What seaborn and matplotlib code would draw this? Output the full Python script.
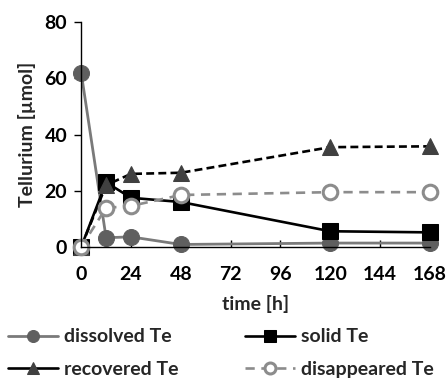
import matplotlib
matplotlib.use("Agg")
import matplotlib.pyplot as plt
import seaborn as sns
import pandas as pd

time_h = [0, 12, 24, 48, 120, 168]
dissolved = [62, 3.3, 3.6, 0.9, 1.4, 1.4]
solid = [0, 23, 17.5, 16, 5.6, 5.2]
recovered = [0, 22, 26, 26.4, 35.5, 35.8]
disappeared = [0, 13.9, 14.6, 18.5, 19.5, 19.5]
series_names = ["dissolved Te", "solid Te", "recovered Te", "disappeared Te"]
x_ticks = [0, 24, 48, 72, 96, 120, 144, 168]
y_ticks = [0, 20, 40, 60, 80]

sns.set_theme(style="white")
plt.rcParams['font.family'] = ['Lato', 'DejaVu Sans']
plt.rcParams['font.weight'] = 'bold'

fig = plt.figure(figsize=(4.46, 3.80), dpi=100)
ax = fig.add_axes([0.182, 0.350, 0.782, 0.592])

df = pd.DataFrame({"time": time_h * 4,
                   "value": dissolved + solid + recovered + disappeared,
                   "series": sum([[n] * len(time_h) for n in series_names], [])})

styles = {
    "dissolved Te": dict(color="#7a7a7a", marker="o", markersize=11.5, markerfacecolor="#5f5f5f",
                         markeredgecolor="#5f5f5f", linewidth=2.0, linestyle="-"),
    "solid Te": dict(color="#000000", marker="s", markersize=11, markerfacecolor="#000000",
                     markeredgecolor="#000000", linewidth=1.9, linestyle="-"),
    "recovered Te": dict(color="#000000", marker="^", markersize=11, markerfacecolor="#404040",
                         markeredgecolor="#404040", linewidth=1.9, linestyle=(0, (3, 1.6))),
    "disappeared Te": dict(color="#8c8c8c", marker="o", markersize=10.5, markerfacecolor="white",
                           markeredgecolor="#8c8c8c", markeredgewidth=2.2, linewidth=1.9,
                           linestyle=(0, (3.5, 2.5))),
}

for name in series_names:
    sub = df[df["series"] == name]
    st = styles[name]
    sns.lineplot(data=sub, x="time", y="value", ax=ax, label=name, estimator=None,
                 sort=False, **st)

ax.set_xlim(0, 168)
ax.set_ylim(0, 80)
ax.set_xticks(x_ticks)
ax.set_yticks(y_ticks)
for s in ["top", "right"]:
    ax.spines[s].set_visible(False)
for s in ["left", "bottom"]:
    ax.spines[s].set_color("black")
    ax.spines[s].set_linewidth(1.0)
ax.tick_params(axis="x", direction="in", length=5, width=1, colors="black", labelsize=14, pad=14)
ax.tick_params(axis="y", direction="out", length=5, width=1, colors="black", labelsize=14, pad=5)
ax.tick_params(left=True, bottom=True)
for lab in ax.get_xticklabels() + ax.get_yticklabels():
    lab.set_fontweight("bold")
ax.set_xlabel("time [h]", fontsize=14, fontweight="bold", labelpad=8)
ax.set_ylabel("Tellurium [µmol]", fontsize=14, fontweight="bold", labelpad=6)
for line in ax.get_lines():
    line.set_clip_on(False)

handles, labels = ax.get_legend_handles_labels()
order = [0, 2, 1, 3]
leg = ax.legend([handles[i] for i in order], [labels[i] for i in order], ncol=2,
                loc="upper left", bbox_to_anchor=(0.0, 0.156),
                bbox_transform=fig.transFigure, frameon=False, markerscale=0.75,
                prop={"weight": "bold", "size": 14}, handlelength=2.6, handletextpad=0.3,
                columnspacing=3.4, labelspacing=0.8, borderaxespad=0)
for ln, lab in zip(leg.get_lines(), [labels[i] for i in order]):
    if lab == "recovered Te":
        ln.set_linestyle("-")

fig.savefig("out.png", dpi=100)
